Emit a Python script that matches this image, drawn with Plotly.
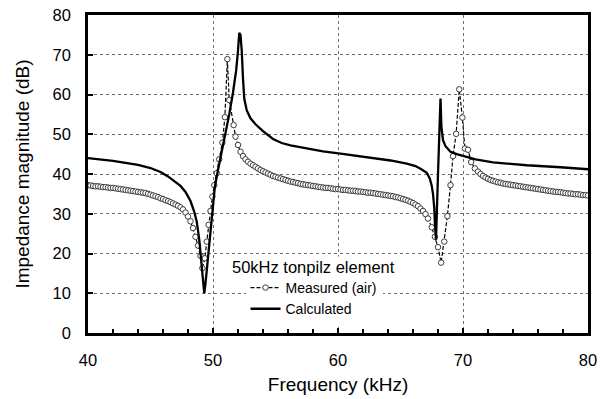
import plotly.graph_objects as go

# ---- Measured (air): frequency (kHz) and impedance magnitude (dB)
meas_f = [40.0, 40.2, 40.4, 40.6, 40.8, 41.0, 41.2, 41.4, 41.6, 41.8,
          42.0, 42.2, 42.4, 42.6, 42.8, 43.0, 43.2, 43.4, 43.6, 43.8,
          44.0, 44.2, 44.4, 44.6, 44.8, 45.0, 45.2, 45.4, 45.6, 45.8,
          46.0, 46.2, 46.4, 46.6, 46.8, 47.0, 47.2, 47.4, 47.6, 47.8,
          48.0, 48.2, 48.4, 48.6, 48.8, 49.0, 49.15, 49.35, 49.5, 49.65,
          49.8, 49.95, 50.1, 50.3, 50.5, 50.75, 50.95, 51.15, 51.3, 51.65,
          51.8, 52.0, 52.2, 52.4, 52.6, 52.8, 53.0, 53.2, 53.4, 53.6,
          53.8, 54.0, 54.2, 54.4, 54.6, 54.8, 55.0, 55.2, 55.4, 55.6,
          55.8, 56.0, 56.2, 56.4, 56.6, 56.8, 57.0, 57.2, 57.4, 57.6,
          57.8, 58.0, 58.2, 58.4, 58.6, 58.8, 59.0, 59.2, 59.4, 59.6,
          59.8, 60.0, 60.2, 60.4, 60.6, 60.8, 61.0, 61.2, 61.4, 61.6,
          61.8, 62.0, 62.2, 62.4, 62.6, 62.8, 63.0, 63.2, 63.4, 63.6,
          63.8, 64.0, 64.2, 64.4, 64.6, 64.8, 65.0, 65.2, 65.4, 65.6,
          65.8, 66.0, 66.2, 66.4, 66.6, 66.8, 67.0, 67.2, 67.5, 67.75,
          68.0, 68.25, 68.5, 68.75, 69.0, 69.2, 69.45, 69.7, 69.95, 70.15,
          70.4, 70.65, 70.95, 71.2, 71.4, 71.6, 71.8, 72.0, 72.2, 72.4,
          72.6, 72.8, 73.0, 73.2, 73.4, 73.6, 73.8, 74.0, 74.2, 74.4,
          74.6, 74.8, 75.0, 75.2, 75.4, 75.6, 75.8, 76.0, 76.2, 76.4,
          76.6, 76.8, 77.0, 77.2, 77.4, 77.6, 77.8, 78.0, 78.2, 78.4,
          78.6, 78.8, 79.0, 79.2, 79.4, 79.6, 79.8, 80.0]
meas_db = [37.2, 37.1, 37.0, 36.9, 36.9, 36.8, 36.7, 36.7, 36.6, 36.5,
           36.5, 36.4, 36.3, 36.2, 36.1, 36.0, 35.9, 35.8, 35.7, 35.6,
           35.5, 35.4, 35.3, 35.2, 35.0, 34.8, 34.6, 34.4, 34.2, 33.9,
           33.7, 33.4, 33.2, 32.9, 32.6, 32.3, 32.0, 31.6, 31.1, 30.3,
           29.3, 28.1, 26.4, 24.2, 22.0, 19.4, 16.3, 18.8, 23.0, 27.2,
           30.7, 34.3, 37.2, 40.2, 43.7, 47.9, 54.3, 68.9, 58.6, 52.3,
           49.4, 47.3, 45.6, 44.5, 43.7, 43.1, 42.6, 42.2, 41.8, 41.4,
           41.0, 40.7, 40.4, 40.1, 39.8, 39.5, 39.3, 39.1, 38.9, 38.7,
           38.5, 38.3, 38.1, 38.0, 37.8, 37.7, 37.5, 37.4, 37.3, 37.2,
           37.1, 37.0, 36.9, 36.8, 36.7, 36.6, 36.5, 36.5, 36.4, 36.3,
           36.2, 36.2, 36.1, 36.0, 36.0, 35.9, 35.8, 35.8, 35.7, 35.6,
           35.6, 35.5, 35.4, 35.3, 35.3, 35.2, 35.1, 35.0, 34.9, 34.8,
           34.7, 34.6, 34.5, 34.4, 34.2, 34.1, 33.9, 33.7, 33.5, 33.3,
           33.0, 32.7, 32.3, 31.9, 31.3, 30.7, 29.9, 28.8, 26.6, 24.2,
           21.6, 17.7, 23.0, 29.4, 37.2, 44.5, 50.1, 61.3, 54.2, 46.4,
           46.1, 43.0, 41.4, 40.6, 40.0, 39.5, 39.1, 38.8, 38.5, 38.3,
           38.1, 37.9, 37.8, 37.6, 37.5, 37.4, 37.3, 37.2, 37.1, 37.0,
           36.9, 36.8, 36.7, 36.6, 36.5, 36.4, 36.3, 36.2, 36.1, 36.0,
           35.9, 35.8, 35.7, 35.6, 35.5, 35.5, 35.4, 35.3, 35.2, 35.1,
           35.1, 35.0, 34.9, 34.9, 34.8, 34.7, 34.7, 34.6]

# ---- Calculated
calc_f = [40.0, 41.0, 42.0, 43.0, 44.0, 45.0, 45.8, 46.4, 47.0, 47.4,
          47.8, 48.2, 48.5, 48.7, 48.9, 49.05, 49.2, 49.3, 49.4, 49.5,
          49.7, 49.9, 50.15, 50.4, 50.7, 51.0, 51.3, 51.6, 51.85, 52.0,
          52.1, 52.2, 52.3, 52.4, 52.5, 52.7, 53.0, 53.4, 54.0, 54.8,
          55.5, 56.2, 57.5, 58.8, 60.2, 61.5, 62.8, 64.2, 65.5, 66.2,
          66.6, 67.1, 67.35, 67.5, 67.6, 67.7, 67.76, 67.84, 68.0, 68.15,
          68.2, 68.27, 68.4, 68.6, 69.0, 69.5, 70.0, 71.0, 72.4, 75.1,
          77.8, 80.0]
calc_db = [44.0, 43.7, 43.3, 42.8, 42.3, 41.5, 40.5, 39.4, 38.0, 37.0,
           35.5, 33.2, 30.5, 28.0, 23.5, 19.0, 14.5, 10.0, 12.5, 15.8,
           22.6, 30.1, 36.8, 41.0, 45.5, 50.0, 55.0, 60.5, 66.0, 71.0,
           75.5, 75.0, 71.0, 64.0, 59.0, 56.0, 54.0, 52.5, 50.8, 48.8,
           47.8, 47.2, 46.4, 45.7, 45.1, 44.6, 44.0, 43.4, 42.6, 42.0,
           41.3, 40.3, 38.8, 37.0, 35.0, 31.5, 27.0, 23.5, 40.0, 57.0,
           59.0, 52.0, 48.5, 47.0, 45.6, 45.0, 44.5, 43.7, 42.9, 42.2,
           41.7, 41.2]

x_ticks = [40, 50, 60, 70, 80]
y_ticks = [0, 10, 20, 30, 40, 50, 60, 70, 80]

FONT = "Arial, Liberation Sans, sans-serif"

fig = go.Figure()
fig.add_trace(go.Scatter(
    x=meas_f, y=meas_db, name="Measured (air)", mode="lines+markers",
    line=dict(color="black", width=1.2, dash="4px,2px"),
    marker=dict(symbol="circle", size=5.5, color="white",
                line=dict(color="#3c3c3c", width=1)),
))
fig.add_trace(go.Scatter(
    x=calc_f, y=calc_db, name="Calculated", mode="lines",
    line=dict(color="black", width=2.3),
))

fig.update_layout(
    width=605, height=399,
    margin=dict(l=88, r=17, t=15, b=66),
    paper_bgcolor="white", plot_bgcolor="white",
    font=dict(family=FONT, color="black", size=16.5),
    showlegend=True,
    legend=dict(x=0.315, y=0.192, xanchor="left", yanchor="top",
                bgcolor="white", borderwidth=0,
                font=dict(size=14, family=FONT, color="black"),
                tracegroupgap=0, itemwidth=30),
    annotations=[dict(text="50kHz tonpilz element", xref="paper", yref="paper",
                      x=0.284, y=0.209, xanchor="left", yanchor="middle",
                      showarrow=False, bgcolor="white", borderpad=1,
                      font=dict(size=16.5, family=FONT, color="black"))],
)
fig.update_xaxes(
    range=[40, 80], tickvals=x_ticks, ticks="inside", ticklen=5, tickwidth=1.5,
    tickcolor="black", showline=True, linecolor="black", linewidth=2.5,
    mirror=True, showgrid=True, gridcolor="#6e6e6e", gridwidth=1, griddash="dot",
    minor=dict(dtick=2, ticks="inside", ticklen=4, tickwidth=1.5, tickcolor="black",
               showgrid=False),
    zeroline=False, tickfont=dict(size=16.5), ticklabelstandoff=10,
    automargin=False,
    title=dict(text="Frequency (kHz)", font=dict(size=19), standoff=11),
)
fig.update_yaxes(
    range=[0, 80], tickvals=y_ticks, ticks="inside", ticklen=5, tickwidth=1.5,
    tickcolor="black", showline=True, linecolor="black", linewidth=2.5,
    mirror=True, showgrid=True, gridcolor="#6e6e6e", gridwidth=1, griddash="dot",
    zeroline=False, tickfont=dict(size=16.5), ticklabelstandoff=11,
    automargin=False,
    title=dict(text="Impedance magnitude (dB)", font=dict(size=19), standoff=18),
)

fig.write_html("out.html")
